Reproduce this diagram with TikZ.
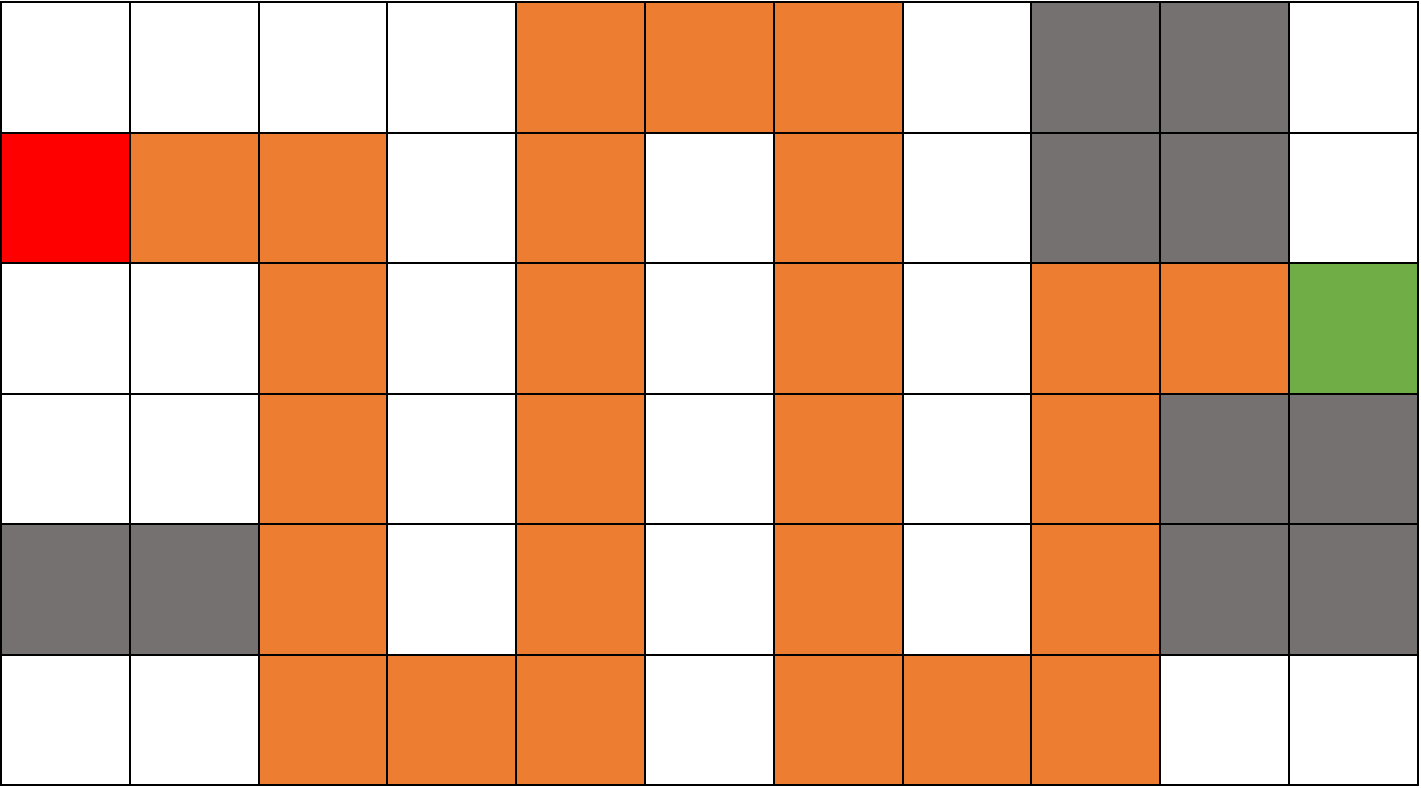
\documentclass[tikz,border=0pt]{standalone}
\definecolor{cW}{HTML}{FFFFFF}
\definecolor{cO}{HTML}{ED7D31}
\definecolor{cG}{HTML}{767171}
\definecolor{cN}{HTML}{70AD47}
\definecolor{cR}{HTML}{FF0000}
\begin{document}
\begin{tikzpicture}[x=0.5pt,y=-0.5pt, cell/.style={draw=black,line width=1pt}]
\useasboundingbox (0,0) rectangle (1421,788);
\foreach \row [count=\r from 0] in {
  {cW,cW,cW,cW,cO,cO,cO,cW,cG,cG,cW},
  {cR,cO,cO,cW,cO,cW,cO,cW,cG,cG,cW},
  {cW,cW,cO,cW,cO,cW,cO,cW,cO,cO,cN},
  {cW,cW,cO,cW,cO,cW,cO,cW,cO,cG,cG},
  {cG,cG,cO,cW,cO,cW,cO,cW,cO,cG,cG},
  {cW,cW,cO,cO,cO,cW,cO,cO,cO,cW,cW}} {
  \foreach \c [count=\k from 0] in \row {
    \filldraw[cell, fill=\c] ({1+\k*128.8},{2+\r*130.5}) rectangle ({1+(\k+1)*128.8},{2+(\r+1)*130.5});
  }
}
\end{tikzpicture}
\end{document}
